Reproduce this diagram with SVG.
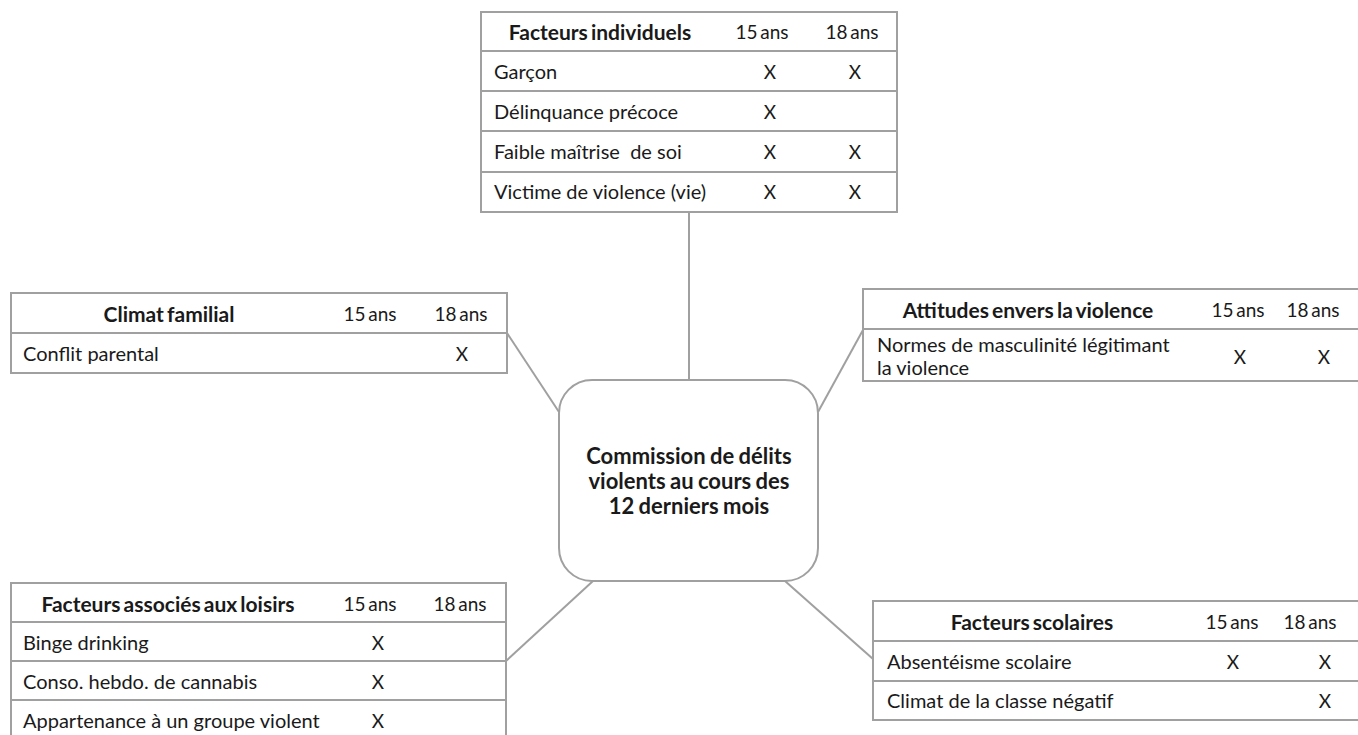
<svg xmlns="http://www.w3.org/2000/svg" width="1358" height="735" viewBox="0 0 1358 735">
<style>
text{font-family:Lato,"Open Sans","Liberation Sans",sans-serif;font-size:20px;fill:#1a1a1a;dominant-baseline:central}
.h{font-weight:bold;font-size:21px;text-anchor:middle;word-spacing:-2px}
.c{text-anchor:middle;font-size:19px;word-spacing:-2px}
.x{text-anchor:middle;font-size:19px}
.b{fill:#fff;stroke:#a0a0a0;stroke-width:2}
.l{stroke:#a0a0a0;stroke-width:2;fill:none}
.ct{font-weight:bold;font-size:22px;text-anchor:middle;word-spacing:-1px}
</style>
<rect width="1358" height="735" fill="#fff"/>
<g id="connectors" class="l">
<line x1="689" y1="212" x2="689" y2="380"/>
<line x1="507" y1="333" x2="559" y2="412"/>
<line x1="863" y1="330" x2="818" y2="412"/>
<line x1="506" y1="661" x2="593" y2="581"/>
<line x1="873" y1="659" x2="785" y2="581"/>
</g>
<g id="center">
<rect class="b" x="559" y="380" width="259" height="201" rx="33"/>
<text class="ct" x="689" y="455">Commission de délits</text>
<text class="ct" x="689" y="480">violents au cours des</text>
<text class="ct" x="689" y="505">12 derniers mois</text>
</g>
<g id="individuels">
<rect class="b" x="481" y="12" width="416" height="200"/>
<path class="l" d="M481 51H897M481 91H897M481 131H897M481 172H897"/>
<text class="h" x="600" y="31">Facteurs individuels</text>
<text class="c" x="762" y="31">15 ans</text>
<text class="c" x="852" y="31">18 ans</text>
<text x="494" y="71">Garçon</text><text class="x" x="770" y="71">X</text><text class="x" x="855" y="71">X</text>
<text x="494" y="111">Délinquance précoce</text><text class="x" x="770" y="111">X</text>
<text x="494" y="151" xml:space="preserve">Faible maîtrise  de soi</text><text class="x" x="770" y="151">X</text><text class="x" x="855" y="151">X</text>
<text x="494" y="191">Victime de violence (vie)</text><text class="x" x="770" y="191">X</text><text class="x" x="855" y="191">X</text>
</g>
<g id="climat">
<rect class="b" x="11" y="293" width="496" height="80"/>
<path class="l" d="M11 333H507"/>
<text class="h" x="169" y="313">Climat familial</text>
<text class="c" x="370" y="313">15 ans</text>
<text class="c" x="461" y="313">18 ans</text>
<text x="23" y="353">Conflit parental</text><text class="x" x="462" y="353">X</text>
</g>
<g id="attitudes">
<path class="l" d="M1360 289H863V381H1360M863 329H1360"/>
<text class="h" x="1028" y="309">Attitudes envers la violence</text>
<text class="c" x="1238" y="309">15 ans</text>
<text class="c" x="1313" y="309">18 ans</text>
<text x="877" y="344">Normes de masculinité légitimant</text>
<text x="877" y="367">la violence</text>
<text class="x" x="1240" y="356">X</text><text class="x" x="1324" y="356">X</text>
</g>
<g id="loisirs">
<path class="l" d="M11 740V583H506V740M11 622H506M11 661H506M11 700H506"/>
<text class="h" x="168" y="603">Facteurs associés aux loisirs</text>
<text class="c" x="370" y="603">15 ans</text>
<text class="c" x="460" y="603">18 ans</text>
<text x="23" y="642">Binge drinking</text><text class="x" x="378" y="642">X</text>
<text x="23" y="681">Conso. hebdo. de cannabis</text><text class="x" x="378" y="681">X</text>
<text x="23" y="720">Appartenance à un groupe violent</text><text class="x" x="378" y="720">X</text>
</g>
<g id="scolaires">
<path class="l" d="M1360 601H873V720H1360M873 641H1360M873 681H1360"/>
<text class="h" x="1032" y="621">Facteurs scolaires</text>
<text class="c" x="1232" y="621">15 ans</text>
<text class="c" x="1310" y="621">18 ans</text>
<text x="887" y="661">Absentéisme scolaire</text><text class="x" x="1233" y="661">X</text><text class="x" x="1325" y="661">X</text>
<text x="887" y="700">Climat de la classe négatif</text><text class="x" x="1325" y="700">X</text>
</g>
</svg>
